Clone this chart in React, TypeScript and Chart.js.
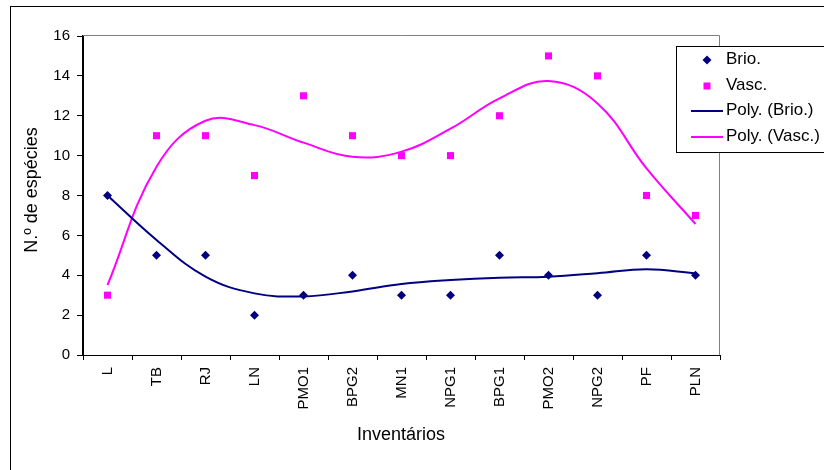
import React, { useEffect, useRef } from 'react';
import { Chart, registerables } from 'chart.js';

Chart.register(...registerables);

const categories = ['L', 'TB', 'RJ', 'LN', 'PMO1', 'BPG2', 'MN1', 'NPG1', 'BPG1', 'PMO2', 'NPG2', 'PF', 'PLN'];
const brio = [8, 5, 5, 2, 3, 4, 3, 3, 5, 4, 3, 5, 4];
const vasc = [3, 11, 11, 9, 13, 11, 10, 10, 12, 15, 14, 8, 7];
// trendline values at each category
const brioTrend = [8.0, 5.77, 3.93, 3.09, 2.94, 3.19, 3.56, 3.76, 3.88, 3.93, 4.1, 4.3, 4.1];
const vascTrend = [3.5, 9.44, 11.75, 11.53, 10.65, 9.94, 10.2, 11.35, 12.87, 13.74, 12.62, 9.36, 6.57];
const legendLabels = ['Brio.', 'Vasc.', 'Poly. (Brio.)', 'Poly. (Vasc.)'];
const yTitle = 'N.º de espécies';
const xTitle = 'Inventários';

const NAVY = '#000080';
const MAGENTA = '#FF00FF';
const FONT = '"Liberation Sans", Arial, sans-serif';

const decorPlugin = {
  id: 'decor',
  beforeDraw(chart: any) {
    const ctx = chart.ctx;
    ctx.save();
    ctx.fillStyle = '#ffffff';
    ctx.fillRect(0, 0, chart.width, chart.height);
    ctx.strokeStyle = '#000000';
    ctx.lineWidth = 1;
    ctx.strokeRect(10.5, 6.5, 1000, 1000);
    ctx.restore();
  },
  beforeDatasetsDraw(chart: any) {
    const ctx = chart.ctx;
    const { left, top, right, bottom } = chart.chartArea;
    ctx.save();
    ctx.strokeStyle = '#808080';
    ctx.lineWidth = 1;
    ctx.beginPath();
    ctx.moveTo(left, top - 0.5);
    ctx.lineTo(right - 0.5, top - 0.5);
    ctx.lineTo(right - 0.5, bottom);
    ctx.stroke();
    ctx.restore();
  },
  afterDraw(chart: any) {
    const ctx = chart.ctx;
    ctx.save();
    // axis titles
    ctx.fillStyle = '#000';
    ctx.font = `18px ${FONT}`;
    ctx.textAlign = 'center';
    ctx.textBaseline = 'middle';
    ctx.fillText(xTitle, 401, 435);
    ctx.save();
    ctx.translate(32, 190);
    ctx.rotate(-Math.PI / 2);
    ctx.fillText(yTitle, 0, 0);
    ctx.restore();

    // legend box
    const bx = 676.5, by = 46.5;
    ctx.fillStyle = '#fff';
    ctx.fillRect(bx, by, 200, 106);
    ctx.strokeStyle = '#000';
    ctx.lineWidth = 1;
    ctx.strokeRect(bx, by, 200, 106);

    const rows = [60, 86, 111, 137];
    // diamond
    ctx.fillStyle = NAVY;
    ctx.beginPath();
    ctx.moveTo(707 - 4.5, rows[0]);
    ctx.lineTo(707, rows[0] - 4.5);
    ctx.lineTo(707 + 4.5, rows[0]);
    ctx.lineTo(707, rows[0] + 4.5);
    ctx.closePath();
    ctx.fill();
    // square
    ctx.fillStyle = MAGENTA;
    ctx.fillRect(703.5, rows[1] - 3.5, 7, 7);
    // lines
    ctx.lineWidth = 2;
    ctx.strokeStyle = NAVY;
    ctx.beginPath();
    ctx.moveTo(691, rows[2]);
    ctx.lineTo(723, rows[2]);
    ctx.stroke();
    ctx.strokeStyle = MAGENTA;
    ctx.beginPath();
    ctx.moveTo(691, rows[3]);
    ctx.lineTo(723, rows[3]);
    ctx.stroke();

    ctx.fillStyle = '#000';
    ctx.font = `17px ${FONT}`;
    ctx.textAlign = 'left';
    ctx.textBaseline = 'middle';
    legendLabels.forEach((t, i) => ctx.fillText(t, 726, rows[i] - 1));
    ctx.restore();
  },
};

export default function App() {
  const ref = useRef<HTMLCanvasElement | null>(null);

  useEffect(() => {
    if (!ref.current) return;
    const chart = new Chart(ref.current, {
      type: 'line',
      data: {
        labels: categories,
        datasets: [
          {
            label: legendLabels[0],
            data: brio,
            showLine: false,
            pointStyle: 'rectRot',
            pointRadius: 4.5,
            borderWidth: 0,
            backgroundColor: NAVY,
            borderColor: NAVY,
          },
          {
            label: legendLabels[1],
            data: vasc,
            showLine: false,
            pointStyle: 'rect',
            pointRadius: 5,
            borderWidth: 0,
            backgroundColor: MAGENTA,
            borderColor: MAGENTA,
          },
          {
            label: legendLabels[2],
            data: brioTrend,
            pointRadius: 0,
            borderWidth: 2,
            borderColor: NAVY,
            backgroundColor: NAVY,
            tension: 0.4,
            fill: false,
          },
          {
            label: legendLabels[3],
            data: vascTrend,
            pointRadius: 0,
            borderWidth: 2,
            borderColor: MAGENTA,
            backgroundColor: MAGENTA,
            tension: 0.4,
            fill: false,
          },
        ],
      },
      options: {
        responsive: false,
        maintainAspectRatio: false,
        animation: false,
        devicePixelRatio: 1,
        layout: { padding: { top: 36, right: 104, left: 0, bottom: 0 } },
        plugins: {
          legend: { display: false },
          tooltip: { enabled: false },
          title: { display: false },
        },
        scales: {
          x: {
            type: 'category',
            offset: true,
            grid: {
              display: true,
              drawOnChartArea: false,
              drawTicks: true,
              tickLength: 5,
              color: '#000',
              offset: true,
            },
            border: { display: true, color: '#000', width: 1 },
            ticks: {
              autoSkip: false,
              maxRotation: 90,
              minRotation: 90,
              padding: 7,
              color: '#000',
              font: { family: FONT, size: 15 },
            },
            afterFit(scale: any) {
              scale.height = 115;
            },
          },
          y: {
            min: 0,
            max: 16,
            grid: {
              display: true,
              drawOnChartArea: false,
              drawTicks: true,
              tickLength: 6,
              color: '#000',
            },
            border: { display: true, color: '#000', width: 2 },
            ticks: {
              stepSize: 2,
              padding: 7,
              color: '#000',
              font: { family: FONT, size: 15 },
            },
            afterFit(scale: any) {
              scale.width = 83;
            },
          },
        },
      },
      plugins: [decorPlugin],
    });
    return () => chart.destroy();
  }, []);

  return (
    <div style={{ position: 'fixed', left: 0, top: 0, width: 824, height: 470, background: '#fff' }}>
      <canvas ref={ref} width={824} height={470} style={{ width: 824, height: 470, display: 'block' }} />
    </div>
  );
}
